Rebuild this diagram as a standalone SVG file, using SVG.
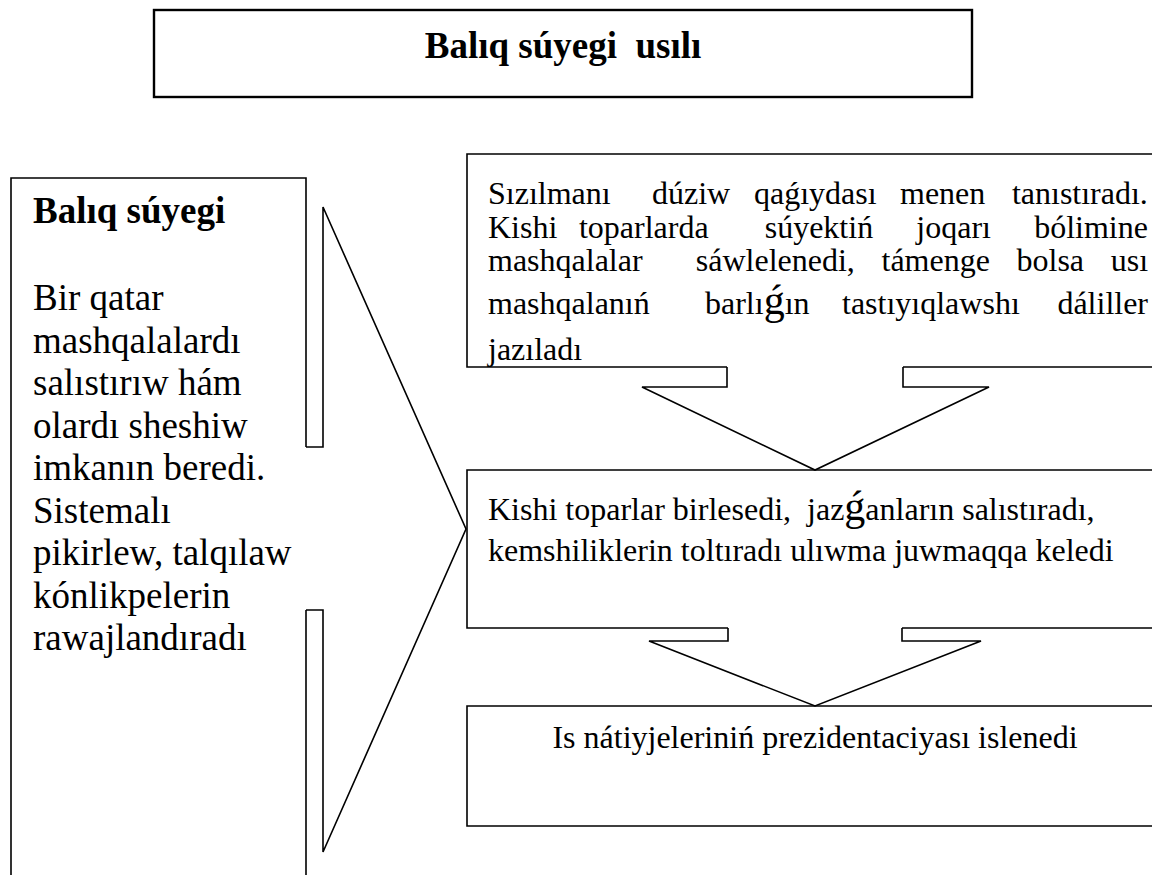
<svg xmlns="http://www.w3.org/2000/svg" width="1152" height="875" viewBox="0 0 1152 875">
<style>
.box{fill:none;stroke:#000;stroke-width:1.6}
.title{fill:none;stroke:#000;stroke-width:2.4}
.arr{fill:#fff;stroke:#000;stroke-width:1.6;stroke-linejoin:miter}
text{font-family:"Liberation Serif","Times New Roman",serif;fill:#000}
.b{font-weight:bold}
.big{font-size:37px}
.sm{font-size:32px}
.g{font-size:42px}
</style>
<rect width="1152" height="875" fill="#fff"/>
<g id="title">
<rect class="title" x="154" y="10" width="818" height="87"/>
<text class="b big" x="563" y="58" text-anchor="middle" xml:space="preserve">Balıq súyegi  usılı</text>
</g>
<g id="left">
<path class="box" d="M11 880 V178 H306 V447 M306 610 V880"/>
<text class="b big" x="33" y="223">Balıq súyegi</text>
<text class="big" x="33" y="310">Bir qatar</text>
<text class="big" x="33" y="352.5">mashqalalardı</text>
<text class="big" x="33" y="395">salıstırıw hám</text>
<text class="big" x="33" y="437.5">olardı sheshiw</text>
<text class="big" x="33" y="480">imkanın beredi.</text>
<text class="big" x="33" y="522.5">Sistemalı</text>
<text class="big" x="33" y="565">pikirlew, talqılaw</text>
<text class="big" x="33" y="607.5">kónlikpelerin</text>
<text class="big" x="33" y="650">rawajlandıradı</text>
</g>
<g id="step1">
<path class="box" d="M1160 154 H467 V367 H727 M903 367 H1160"/>
<text class="sm" y="204"><tspan x="488">Sızılmanı</tspan><tspan x="652">dúziw</tspan><tspan x="754">qaǵıydası</tspan><tspan x="900">menen</tspan><tspan x="1011.9">tanıstıradı.</tspan></text>
<text class="sm" y="238"><tspan x="488">Kishi</tspan><tspan x="578.9">toparlarda</tspan><tspan x="764.7">súyektiń</tspan><tspan x="916.3">joqarı</tspan><tspan x="1034.2">bólimine</tspan></text>
<text class="sm" y="271"><tspan x="488">mashqalalar</tspan><tspan x="695.8">sáwlelenedi,</tspan><tspan x="881.5">támenge</tspan><tspan x="1016.5">bolsa</tspan><tspan x="1110.7">usı</tspan></text>
<text class="sm" y="314"><tspan x="488">mashqalanıń</tspan><tspan x="705">barlı</tspan><tspan class="g">ǵ</tspan><tspan>ın</tspan><tspan x="842">tastıyıqlawshı</tspan><tspan x="1057.4">dáliller</tspan></text>
<text class="sm" x="488" y="360">jazıladı</text>
</g>
<g id="step2">
<path class="box" d="M1160 470 H467 V628 H728 M902 628 H1160"/>
<text class="sm" x="488" y="520" xml:space="preserve">Kishi toparlar birlesedi,  jaz<tspan class="g">ǵ</tspan>anların salıstıradı,</text>
<text class="sm" x="488" y="561">kemshiliklerin toltıradı ulıwma juwmaqqa keledi</text>
</g>
<g id="step3">
<path class="box" d="M1160 706 H467 V826 H1160"/>
<text class="sm" x="815" y="748" text-anchor="middle">Is nátiyjeleriniń prezidentaciyası islenedi</text>
</g>
<g id="connectors">
<polyline class="arr" points="306,447 323,447 323,207 466,529 323,852 323,610 306,610"/>
<polyline class="arr" points="727,367 727,387 642,387 815,470 989,387 903,387 903,367"/>
<polyline class="arr" points="728,628 728,641 649,641 815,706 981,641 902,641 902,628"/>
</g>
</svg>
